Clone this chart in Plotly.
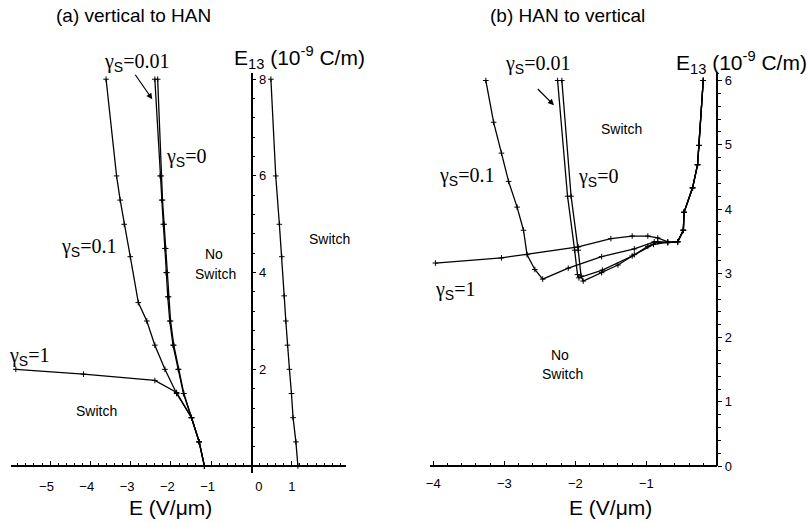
import plotly.graph_objects as go

W, H = 807, 522

# ---------------- panel (a): vertical to HAN ----------------
a_g001_E   = [-2.40, -2.27, -2.23, -2.19, -2.15, -2.12, -2.08, -2.03, -1.95, -1.82, -1.69, -1.49, -1.30, -1.17]
a_g001_E13 = [8.0, 6.0, 5.5, 5.0, 4.5, 4.0, 3.5, 3.0, 2.5, 2.0, 1.5, 1.0, 0.5, 0.0]
a_g0_E     = [-2.33, -2.24, -2.21, -2.17, -2.13, -2.10, -2.06, -2.01, -1.93, -1.81, -1.68, -1.49, -1.30, -1.17]
a_g0_E13   = [8.0, 6.0, 5.5, 5.0, 4.5, 4.0, 3.5, 3.0, 2.5, 2.0, 1.5, 1.0, 0.5, 0.0]
a_g01_E    = [-3.61, -3.35, -3.26, -3.16, -3.01, -2.81, -2.60, -2.40, -2.15, -1.86, -1.49, -1.30, -1.17]
a_g01_E13  = [8.0, 6.0, 5.5, 5.0, 4.33, 3.38, 3.0, 2.5, 2.0, 1.5, 1.0, 0.5, 0.0]
a_g1_E     = [-5.85, -4.17, -2.40, -1.86, -1.49, -1.30, -1.17]
a_g1_E13   = [2.0, 1.90, 1.77, 1.52, 1.0, 0.5, 0.0]
a_pos_E    = [0.48, 0.60, 0.69, 0.75, 0.81, 0.85, 0.89, 0.94, 0.99, 1.03, 1.10, 1.15]
a_pos_E13  = [8.0, 6.0, 5.0, 4.33, 3.52, 3.0, 2.5, 2.0, 1.5, 1.0, 0.5, 0.0]

a_xticks = [-5, -4, -3, -2, -1, 0, 1]
a_xticktext = ["\u22125\u00a0\u00a0", "\u22124\u00a0\u00a0", "\u22123\u00a0\u00a0", "\u22122\u00a0\u00a0",
               "\u22121\u00a0\u00a0", "\u00a0\u00a0\u00a0\u00a00", "1"]
a_yticks = [2, 4, 6, 8]

# ---------------- panel (b): HAN to vertical ----------------
b_right_E   = [-0.56, -0.48, -0.47, -0.35, -0.28, -0.26, -0.20]
b_right_E13 = [3.49, 3.67, 3.95, 4.33, 4.69, 4.99, 6.0]
b_g001_E    = [-2.25, -2.11, -2.01, -1.97, -1.95, -1.62, -1.20, -0.90, -0.70] + b_right_E
b_g001_E13  = [6.0, 4.2, 3.36, 2.98, 2.93, 3.05, 3.27, 3.45, 3.48] + b_right_E13
b_g0_E      = [-2.19, -2.06, -1.96, -1.92, -1.89, -1.63, -1.40, -1.17, -0.98, -0.84, -0.70] + b_right_E
b_g0_E13    = [6.0, 4.2, 3.36, 2.96, 2.88, 3.01, 3.13, 3.29, 3.42, 3.49, 3.48] + b_right_E13
b_g01_E     = [-3.26, -3.15, -3.04, -2.94, -2.82, -2.73, -2.68, -2.57, -2.46, -2.10, -1.63, -1.17, -0.89, -0.70] + b_right_E
b_g01_E13   = [6.0, 5.35, 4.87, 4.43, 4.03, 3.67, 3.29, 3.06, 2.91, 3.08, 3.26, 3.38, 3.49, 3.48] + b_right_E13
b_g1_E      = [-3.97, -3.04, -1.96, -1.50, -1.20, -0.98, -0.84, -0.70] + b_right_E
b_g1_E13    = [3.16, 3.24, 3.41, 3.54, 3.58, 3.58, 3.55, 3.49] + b_right_E13

b_xticks = [-4, -3, -2, -1]
b_yticks = [0, 1, 2, 3, 4, 5, 6]

# ---------------- pixel geometry of the axes ----------------
# panel (a)
ax_px = (6.7, 343.3)      # x-axis line extent
ax_zero, ax_scale = 248.8, 40.5
ay_px = (73.3, 480.0)     # y-axis line extent (top, bottom)
ay_zero, ay_scale = 473.2, 49.2
# panel (b)
bx_px = (428.3, 717.0)
bx_zero, bx_scale = 717.0, 71.4
by_px = (72.7, 473.3)
by_zero, by_scale = 473.3, 65.4


def xr(px, zero, scale):
    return [(px[0] - zero) / scale, (px[1] - zero) / scale]


def yr(py, zero, scale):
    return [(zero - py[1]) / scale, (zero - py[0]) / scale]


def fx(px):
    return px / W


def fy(py):
    return 1 - py / H


SERIF = "Liberation Serif, Times New Roman, Times, serif"
SANS = "Liberation Sans, Arial, Helvetica, sans-serif"

line_style = dict(color="black", width=1.3)
marker_style = dict(symbol="cross-thin", size=4, line=dict(color="black", width=1), color="black")

fig = go.Figure()


def add_curve(xs, ys, xa, ya):
    fig.add_trace(go.Scatter(x=xs, y=ys, mode="lines+markers", line=line_style,
                             marker=marker_style, xaxis=xa, yaxis=ya,
                             showlegend=False, hoverinfo="skip", cliponaxis=False))


for xs, ys in [(a_g001_E, a_g001_E13), (a_g0_E, a_g0_E13), (a_g01_E, a_g01_E13),
               (a_g1_E, a_g1_E13), (a_pos_E, a_pos_E13)]:
    add_curve(xs, ys, "x", "y")

for xs, ys in [(b_g001_E, b_g001_E13), (b_g0_E, b_g0_E13), (b_g01_E, b_g01_E13), (b_g1_E, b_g1_E13)]:
    add_curve(xs, ys, "x2", "y2")

tickfont = dict(family=SANS, size=13, color="black")
common_x = dict(showgrid=False, zeroline=False, showline=True, linecolor="black", linewidth=1.6,
                ticks="inside", ticklen=4, tickwidth=1, tickcolor="black", tickfont=tickfont,
                anchor="free", fixedrange=True)
common_y = dict(showgrid=False, zeroline=False, showline=True, linecolor="black", linewidth=1.6,
                ticks="outside", ticklen=4, tickwidth=1, tickcolor="black", tickfont=tickfont,
                anchor="free", side="right", fixedrange=True)

a_yrange = yr(ay_px, ay_zero, ay_scale)
b_yrange = yr(by_px, by_zero, by_scale)

fig.update_layout(
    width=W, height=H,
    margin=dict(l=0, r=0, t=0, b=0),
    paper_bgcolor="white", plot_bgcolor="white",
    xaxis=dict(common_x, domain=[fx(ax_px[0]), fx(ax_px[1])], range=xr(ax_px, ax_zero, ax_scale),
               position=fy(ay_zero), tickvals=a_xticks, ticktext=a_xticktext, ticklabelstandoff=9,
               minor=dict(dtick=0.2, ticks="inside", ticklen=2.5, tickcolor="black", tickwidth=1)),
    yaxis=dict(common_y, domain=[fy(ay_px[1]), fy(ay_px[0])], range=a_yrange,
               position=fx(ax_zero), tickvals=a_yticks,
               minor=dict(dtick=0.4, ticks="outside", ticklen=2.5, tickcolor="black", tickwidth=1)),
    xaxis2=dict(common_x, domain=[fx(bx_px[0]), fx(bx_px[1])], range=xr(bx_px, bx_zero, bx_scale),
                position=fy(by_zero), tickvals=b_xticks, ticklabelstandoff=5,
                minor=dict(dtick=0.2, ticks="inside", ticklen=2.5, tickcolor="black", tickwidth=1)),
    yaxis2=dict(common_y, domain=[fy(by_px[1]), fy(by_px[0])], range=b_yrange,
                position=fx(bx_zero), tickvals=b_yticks,
                minor=dict(dtick=0.2, ticks="outside", ticklen=2.5, tickcolor="black", tickwidth=1)),
)


def label(text, px, py, size, family=SANS, xanchor="center", yanchor="middle"):
    fig.add_annotation(text=text, x=fx(px), y=fy(py), xref="paper", yref="paper",
                       showarrow=False, xanchor=xanchor, yanchor=yanchor,
                       font=dict(family=family, size=size, color="black"))


def gamma(val):
    return ("\u03b3<sub><span style=\"font-family:'Liberation Sans', Arial, sans-serif\">S</span></sub>=" + val)


E13_TITLE = "E<sub>13</sub> (10<sup>-9</sup> C/m)"
E_TITLE = "E (V/\u03bcm)"

# panel titles
label("(a) vertical to HAN", 130, 15, 19)
label("(b) HAN to vertical", 566.5, 15, 19)

# axis titles
label(E13_TITLE, 229, 57, 21, xanchor="left")
label(E13_TITLE, 673, 63, 21, xanchor="left")
label(E_TITLE, 167.5, 515, 21)
label(E_TITLE, 610, 515, 21)

# curve labels, panel (a)
label(gamma("0.01"), 133, 63, 20, SERIF)
label(gamma("0"), 183, 159, 20, SERIF)
label(gamma("0.1"), 85, 251, 20, SERIF)
label(gamma("1"), 25, 362, 20, SERIF)
# curve labels, panel (b)
label(gamma("0.01"), 536, 65, 20, SERIF)
label(gamma("0"), 597, 180, 20, SERIF)
label(gamma("0.1"), 465, 179, 20, SERIF)
label(gamma("1"), 453, 295, 20, SERIF)

# region labels
label("No", 211.5, 257, 14)
label("Switch", 213, 278, 14)
label("Switch", 327, 242, 14)
label("Switch", 93, 417, 14)
label("Switch", 621, 130, 14)
label("No", 559, 360, 14)
label("Switch", 561, 380, 14)

# arrows pointing at the gamma_s = 0.01 curves
for (hx, hy, tx, ty) in [(149, 100, 131, 74), (552.7, 106, 535, 88.3)]:
    fig.add_annotation(x=fx(hx), y=fy(hy), xref="paper", yref="paper", text="",
                       showarrow=True, ax=tx - hx, ay=ty - hy, axref="pixel", ayref="pixel",
                       arrowhead=2, arrowsize=1, arrowwidth=1.2, arrowcolor="black")

fig.write_html("out.html")
